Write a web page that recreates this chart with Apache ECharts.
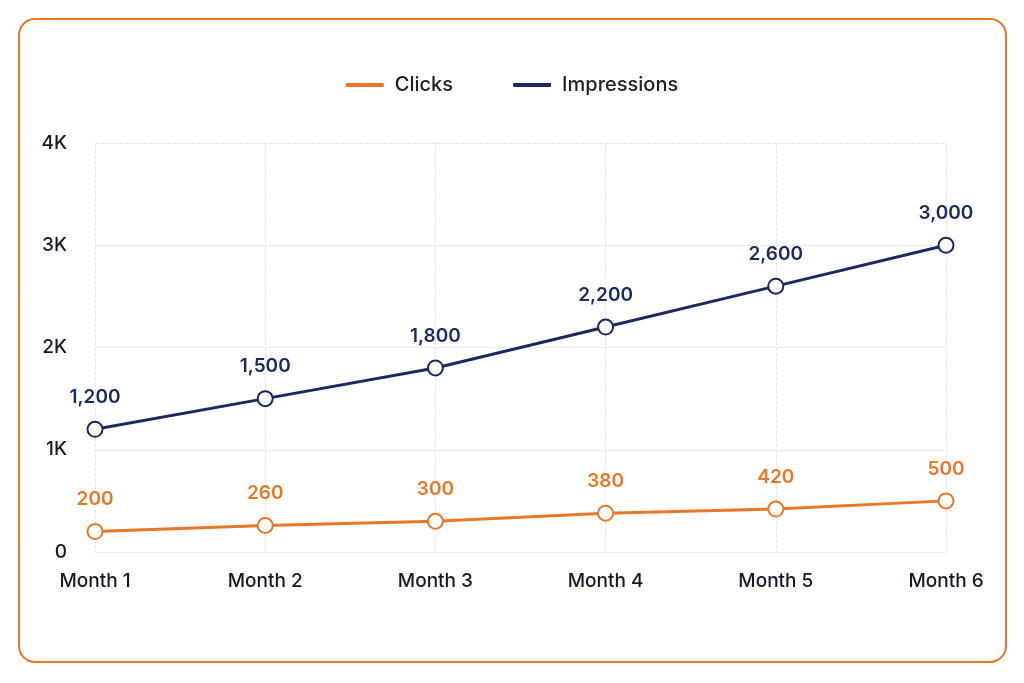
<!DOCTYPE html>
<html>
<head>
<meta charset="utf-8">
<script src="https://cdn.jsdelivr.net/npm/echarts@6/dist/echarts.min.js"></script>
<style>
html,body{margin:0;padding:0;background:#fff;}
#main{width:1024px;height:683px;}
</style>
</head>
<body>
<div id="main"></div>
<script>
// 数据
var months = ['Month 1','Month 2','Month 3','Month 4','Month 5','Month 6'];
var clicks = [200,260,300,380,420,500];
var impressions = [1200,1500,1800,2200,2600,3000];
var orange = '#E8772A', navy = '#1B2A5E';

var chart = echarts.init(document.getElementById('main'));
var option = {
    textStyle:{fontFamily:'Inter'},
    graphic:[{
        type:'rect',
        shape:{x:19,y:19,width:987,height:643,r:16},
        style:{fill:'#fff',stroke:orange,lineWidth:2},
        z:-10
    }],
    legend:{
        top:70,
        left:'center',
        icon:'roundRect',
        itemWidth:38,
        itemHeight:4,
        itemGap:60,
        textStyle:{fontSize:20,color:'#222',fontWeight:500,padding:[0,0,0,6]},
        data:['Clicks','Impressions']
    },
    grid:{left:95,right:78,top:143,bottom:131},
    xAxis:{
        type:'category',
        data:months,
        boundaryGap:false,
        axisLine:{show:true,lineStyle:{color:'#eee'}},
        axisTick:{show:false},
        axisLabel:{fontSize:19,color:'#15172a',fontWeight:500,margin:20},
        splitLine:{show:true,lineStyle:{type:'dashed',color:'#e6e6e6'}}
    },
    yAxis:{
        type:'value',
        min:0,max:4000,interval:1000,
        axisLabel:{fontSize:19,color:'#15172a',fontWeight:500,margin:28,
            formatter:function(v){return v==0?'0':(v/1000)+'K';}},
        axisLine:{show:false},
        axisTick:{show:false},
        splitLine:{lineStyle:{type:'dashed',color:'#e6e6e6'}}
    },
    series:[{
        name:'Clicks',
        type:'line',
        data:clicks,
        symbol:'emptyCircle',
        symbolSize:15,
        lineStyle:{color:orange,width:3},
        itemStyle:{color:orange,borderWidth:3.5},
        label:{show:true,position:'top',distance:14,color:orange,fontSize:19,fontWeight:600,
            formatter:function(p){return p.value.toLocaleString('en-US');}}
    },{
        name:'Impressions',
        type:'line',
        data:impressions,
        symbol:'emptyCircle',
        symbolSize:15,
        lineStyle:{color:navy,width:3},
        itemStyle:{color:navy,borderWidth:3.5},
        label:{show:true,position:'top',distance:14,color:navy,fontSize:19,fontWeight:600,
            formatter:function(p){return p.value.toLocaleString('en-US');}}
    }]
};
chart.setOption(option);
</script>
</body>
</html>
